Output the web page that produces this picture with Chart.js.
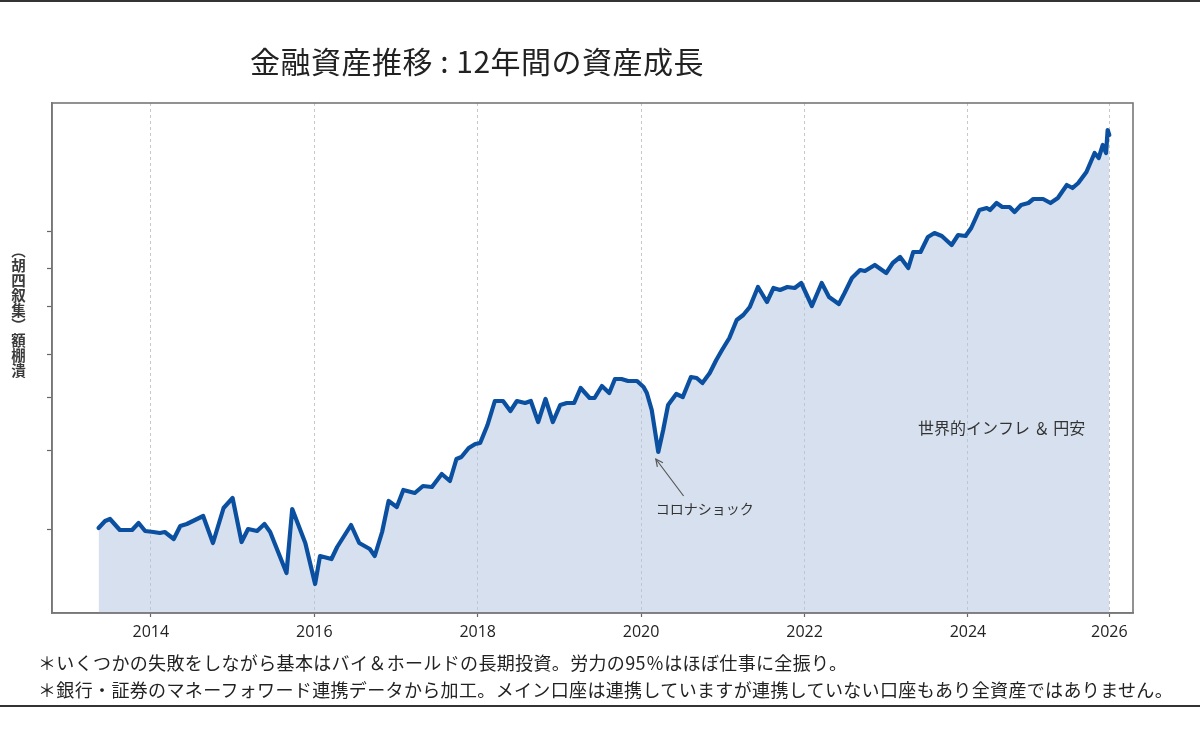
<!DOCTYPE html>
<html>
<head>
<meta charset="utf-8">
<script src="https://cdn.jsdelivr.net/npm/chart.js@4.4.1/dist/chart.umd.min.js"></script>
<style>
  html, body { margin: 0; padding: 0; background: #fff; }
  #wrap { position: relative; width: 1200px; height: 733px; overflow: hidden; background: #fff; }
  #cv { position: absolute; left: 0; top: 0; width: 1200px; height: 733px; }
  .title { position: absolute; left: 250px; top: 38px; font-family: "Noto Sans CJK JP", sans-serif; font-size: 30px; color: #222; white-space: nowrap; letter-spacing: 0.5px; }
  .ylab { position: absolute; left: 9px; top: 243px; writing-mode: vertical-rl; font-family: "Noto Sans CJK JP", sans-serif; font-size: 14.5px; font-weight: bold; color: #3a3a3a; line-height: 18px; letter-spacing: 0.5px; }
  .notes { position: absolute; left: 38px; top: 649px; font-family: "Noto Sans CJK JP", sans-serif; font-size: 18px; line-height: 27px; color: #222; white-space: nowrap; letter-spacing: 0.35px; }
  .rule { position: absolute; left: 0; width: 1200px; background: #333; }
</style>
</head>
<body>
<div id="wrap">
  <div class="rule" style="top:0;height:2px;"></div>
  <canvas id="cv" width="1200" height="733"></canvas>
  <div class="title">金融資産推移 : 12年間の資産成長</div>
  <div class="ylab">（胡四叙集）額棚潰</div>
  <div class="notes">＊いくつかの失敗をしながら基本はバイ＆ホールドの長期投資。労力の95％はほぼ仕事に全振り。<br>＊銀行・証券のマネーフォワード連携データから加工。メイン口座は連携していますが連携していない口座もあり全資産ではありません。</div>
  <div class="rule" style="top:705px;height:2px;"></div>
</div>
<script>
// ---- data (y in arbitrary units, unlabeled axis) ----
const years = [2013.36,2013.44,2013.50,2013.62,2013.77,2013.85,2013.93,2014.03,2014.11,2014.17,
2014.28,2014.36,2014.44,2014.54,2014.64,2014.76,2014.89,2015.00,2015.11,2015.19,
2015.30,2015.39,2015.46,2015.66,2015.73,2015.89,2016.01,2016.07,2016.21,2016.28,
2016.45,2016.55,2016.68,2016.74,2016.83,2016.91,2017.01,2017.09,2017.23,2017.33,
2017.44,2017.56,2017.66,2017.74,2017.80,2017.89,2017.97,2018.03,2018.12,2018.21,
2018.31,2018.40,2018.48,2018.58,2018.65,2018.74,2018.83,2018.92,2019.01,2019.09,
2019.18,2019.26,2019.37,2019.43,2019.52,2019.61,2019.68,2019.76,2019.84,2019.95,
2020.03,2020.07,2020.13,2020.21,2020.27,2020.33,2020.43,2020.51,2020.61,2020.68,
2020.75,2020.84,2020.92,2020.99,2021.08,2021.17,2021.25,2021.33,2021.43,2021.54,
2021.62,2021.70,2021.79,2021.88,2021.96,2022.09,2022.21,2022.30,2022.42,2022.49,
2022.58,2022.68,2022.74,2022.86,2023.00,2023.08,2023.17,2023.27,2023.33,2023.42,
2023.51,2023.59,2023.68,2023.80,2023.88,2023.97,2024.04,2024.14,2024.23,2024.27,
2024.35,2024.42,2024.51,2024.57,2024.65,2024.74,2024.80,2024.92,2025.01,2025.10,
2025.21,2025.28,2025.35,2025.45,2025.55,2025.60,2025.65,2025.69,2025.71,2025.73];

const values = [85,92,94,83,83,90,82,81,80,81,
74,87,89,93,97,70,105,115,71,84,
82,89,81,40,104,70,29,57,54,66,
88,70,64,57,81,112,106,123,120,127,
126,139,132,154,156,165,169,170,188,212,
212,202,212,210,212,191,214,191,208,210,
210,225,215,215,227,220,234,234,232,232,
226,220,203,161,183,208,219,216,236,235,
230,240,253,263,275,293,298,306,326,311,
325,323,326,325,330,307,330,316,309,320,
335,343,342,348,340,350,356,345,361,361,
376,380,377,368,378,377,385,403,405,403,
410,406,406,401,408,410,414,414,410,415,
428,425,430,441,460,455,468,460,483,478];

const xTickValues = [2014, 2016, 2018, 2020, 2022, 2024, 2025.73];
const xTickLabels = ['2014', '2016', '2018', '2020', '2022', '2024', '2026'];
const yTickValues = [84, 163, 215, 259, 307, 345, 382];

const xMin = 2012.79, xMax = 2026.02;
const yMin = 0, yMax = 510;

// annotations (data coordinates)
const coronaText = 'コロナショック';
const coronaTextPos = [2020.18, 104];
const coronaArrowFrom = [2020.52, 117];
const coronaArrowTo = [2020.18, 154];
const inflText = '世界的インフレ ＆ 円安';
const inflTextPos = [2023.39, 185];

const points = years.map((x, i) => ({ x: x, y: values[i] }));

const framePlugin = {
  id: 'frame',
  afterDatasetsDraw(chart) {
    const { ctx, chartArea: a, scales } = chart;
    const X = v => scales.x.getPixelForValue(v);
    const Y = v => scales.y.getPixelForValue(v);
    ctx.save();
    // arrow
    const x1 = X(coronaArrowFrom[0]), y1 = Y(coronaArrowFrom[1]);
    const x2 = X(coronaArrowTo[0]), y2 = Y(coronaArrowTo[1]);
    ctx.strokeStyle = '#555';
    ctx.lineWidth = 1.2;
    ctx.beginPath(); ctx.moveTo(x1, y1); ctx.lineTo(x2, y2); ctx.stroke();
    const ang = Math.atan2(y2 - y1, x2 - x1);
    const hl = 8;
    ctx.beginPath();
    ctx.moveTo(x2 - hl * Math.cos(ang - 0.45), y2 - hl * Math.sin(ang - 0.45));
    ctx.lineTo(x2, y2);
    ctx.lineTo(x2 - hl * Math.cos(ang + 0.45), y2 - hl * Math.sin(ang + 0.45));
    ctx.stroke();
    // texts
    ctx.fillStyle = '#333';
    ctx.textBaseline = 'middle';
    ctx.textAlign = 'left';
    ctx.font = '14px "Noto Sans CJK JP", sans-serif';
    ctx.fillText(coronaText, X(coronaTextPos[0]), Y(coronaTextPos[1]));
    ctx.font = '16px "Noto Sans CJK JP", sans-serif';
    ctx.fillText(inflText, X(inflTextPos[0]), Y(inflTextPos[1]));
    // frame box
    ctx.strokeStyle = '#777';
    ctx.lineWidth = 1.6;
    ctx.strokeRect(a.left, a.top, a.right - a.left, a.bottom - a.top);
    ctx.restore();
  }
};

new Chart(document.getElementById('cv'), {
  type: 'line',
  data: {
    datasets: [{
      data: points,
      borderColor: '#0b50a0',
      borderWidth: 4.2,
      backgroundColor: 'rgba(176,196,222,0.52)',
      fill: 'origin',
      pointRadius: 0,
      tension: 0,
      borderJoinStyle: 'round',
      borderCapStyle: 'round'
    }]
  },
  options: {
    responsive: false,
    animation: false,
    events: [],
    layout: { padding: { left: 0, top: 103, right: 67, bottom: 90 } },
    plugins: { legend: { display: false }, tooltip: { enabled: false }, title: { display: false } },
    scales: {
      x: {
        type: 'linear',
        min: xMin, max: xMax,
        afterBuildTicks(scale) { scale.ticks = xTickValues.map(v => ({ value: v })); },
        afterFit(scale) { scale.height = 30; },
        ticks: {
          autoSkip: false, maxRotation: 0, padding: 6,
          color: '#222',
          font: { family: '"Open Sans", sans-serif', size: 16 },
          callback: (v, i) => xTickLabels[i]
        },
        grid: {
          color: '#c8c8c8', lineWidth: 1,
          drawOnChartArea: true, drawTicks: true, tickLength: 4,
          tickColor: '#666', tickWidth: 1.2, tickBorderDash: []
        },
        border: { display: true, color: '#777', width: 1.6, dash: [3, 3] }
      },
      y: {
        type: 'linear',
        min: yMin, max: yMax,
        afterBuildTicks(scale) { scale.ticks = yTickValues.map(v => ({ value: v })); },
        afterFit(scale) { scale.width = 52; },
        ticks: { display: false, autoSkip: false },
        grid: { drawOnChartArea: false, drawTicks: true, tickLength: 5, tickColor: '#666', tickWidth: 1.2 },
        border: { display: true, color: '#777', width: 1.6 }
      }
    }
  },
  plugins: [framePlugin]
});
</script>
</body>
</html>
